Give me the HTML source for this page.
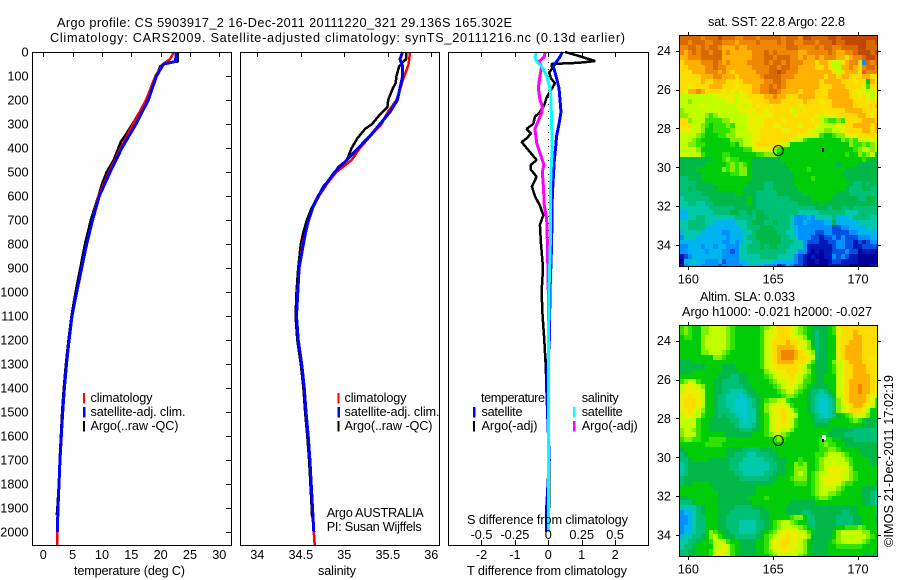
<!DOCTYPE html>
<html>
<head>
<meta charset="utf-8">
<title>Argo profile</title>
<style>
html,body{margin:0;padding:0;background:#fff;}
svg{display:block;}
text{font-family:"Liberation Sans",sans-serif;font-size:12.7px;fill:#000;}
</style>
</head>
<body>
<svg id="chart" xmlns="http://www.w3.org/2000/svg" width="900" height="580" viewBox="0 0 900 580">
  <rect x="0" y="0" width="900" height="580" fill="#fff"/>
  <defs>
    <clipPath id="clip-sst"><rect x="680" y="36" width="197" height="230"/></clipPath>
    <clipPath id="clip-sla"><rect x="680" y="326" width="197" height="230"/></clipPath>
  </defs>
  <text x="57" y="27" textLength="455" lengthAdjust="spacing">Argo profile: CS 5903917_2 16-Dec-2011 20111220_321 29.136S 165.302E</text>
  <text x="50" y="42" textLength="575" lengthAdjust="spacing">Climatology: CARS2009. Satellite-adjusted climatology: synTS_20111216.nc (0.13d earlier)</text>

  <g id="temp-panel"></g>
  <g id="sal-panel"></g>
  <g id="diff-panel"></g>
  <g id="sst-map"></g>
  <g id="sla-map"></g>

  <text x="74" y="575" textLength="111" lengthAdjust="spacing">temperature (deg C)</text>
  <text x="318" y="575" textLength="38" lengthAdjust="spacing">salinity</text>
  <text x="467" y="575" textLength="160" lengthAdjust="spacing">T difference from climatology</text>
  <text x="467" y="524" textLength="161" lengthAdjust="spacing">S difference from climatology</text>

  <g>
    <rect x="83" y="393" width="2" height="10.5" fill="#f00"/>
    <rect x="83" y="407" width="2.5" height="10.5" fill="#00f"/>
    <rect x="83" y="421" width="2" height="10.5" fill="#000"/>
    <text x="90.5" y="402" textLength="62" lengthAdjust="spacing">climatology</text>
    <text x="90.5" y="416" textLength="95" lengthAdjust="spacing">satellite-adj. clim.</text>
    <text x="90.5" y="430" textLength="88" lengthAdjust="spacing">Argo(..raw -QC)</text>
  </g>
  <g>
    <rect x="337.5" y="393" width="2" height="10.5" fill="#f00"/>
    <rect x="337.5" y="407" width="2.5" height="10.5" fill="#00f"/>
    <rect x="337.5" y="421" width="2" height="10.5" fill="#000"/>
    <text x="344.5" y="402" textLength="62" lengthAdjust="spacing">climatology</text>
    <text x="344.5" y="416" textLength="95" lengthAdjust="spacing">satellite-adj. clim.</text>
    <text x="344.5" y="430" textLength="88" lengthAdjust="spacing">Argo(..raw -QC)</text>
    <text x="326.7" y="517" textLength="97" lengthAdjust="spacing">Argo AUSTRALIA</text>
    <text x="326.7" y="531" textLength="95" lengthAdjust="spacing">PI: Susan Wijffels</text>
  </g>
  <g>
    <text x="481" y="402" textLength="64" lengthAdjust="spacing">temperature</text>
    <rect x="473" y="407" width="2.5" height="10.5" fill="#00f"/>
    <rect x="473" y="421" width="2" height="10.5" fill="#000"/>
    <text x="481.5" y="416" textLength="41" lengthAdjust="spacing">satellite</text>
    <text x="481.5" y="430" textLength="56" lengthAdjust="spacing">Argo(-adj)</text>
    <text x="581.7" y="402" textLength="37" lengthAdjust="spacing">salinity</text>
    <rect x="573" y="407" width="2.5" height="10.5" fill="#0ff"/>
    <rect x="573" y="421" width="2.5" height="10.5" fill="#f0f"/>
    <text x="581.7" y="416" textLength="41" lengthAdjust="spacing">satellite</text>
    <text x="581.7" y="430" textLength="56" lengthAdjust="spacing">Argo(-adj)</text>
  </g>

  <text x="708" y="26" textLength="137" lengthAdjust="spacing">sat. SST: 22.8 Argo: 22.8</text>
  <text x="700" y="301" textLength="95" lengthAdjust="spacing">Altim. SLA: 0.033</text>
  <text x="682" y="316" textLength="190" lengthAdjust="spacing">Argo h1000: -0.021 h2000: -0.027</text>
  <text transform="translate(893,547) rotate(-90)" textLength="172" lengthAdjust="spacing">©IMOS 21-Dec-2011 17:02:19</text>
</svg>

<script>
// ---- shared axis tick values ----
const depthTicks = [0,100,200,300,400,500,600,700,800,900,1000,1100,1200,1300,1400,1500,1600,1700,1800,1900,2000];
const tempTicks = [0,5,10,15,20,25,30];
const salTicks = [34,34.5,35,35.5,36];
const salTickLabels = ["34","34.5","35","35.5","36"];
const diffTTicks = [-2,-1,0,1,2];
const diffTLabels = ["-2","-1","0","1","2"];
const diffSTicks = [-0.5,-0.25,0,0.25,0.5];
const diffSLabels = ["-0.5","-0.25","0","0.25","0.5"];
const lonTicks = [160,165,170];
const latTicks = [24,26,28,30,32,34];

// ---- temperature profiles ----
const tempClimDepths = [0,30,50,100,200,300,400,500,600,700,800,900,1000,1100,1200,1300,1400,1500,1600,1700,1800,1900,2000,2054];
const tempClim = [22.3,21.6,20.4,19.1,17.5,15.3,13.2,11.2,9.4,8.35,7.4,6.55,5.7,4.9,4.4,3.95,3.6,3.3,3.07,2.85,2.68,2.55,2.4,2.4];
const tempSatDepths = [0,40,50,100,200,300,400,500,600,700,800,900,1000,1100,1200,1300,1400,1500,1600,1700,1800,1900,2000];
const tempSat = [22.7,22.5,20.5,19.3,17.9,15.8,13.4,11.4,9.55,8.4,7.4,6.55,5.7,4.9,4.4,3.95,3.6,3.3,3.07,2.85,2.68,2.5,2.39];
const tempArgoDepths = [0,40,45,60,100,200,280,300,350,375,400,450,500,550,600,700,800,900,1000,1100,1200,1300,1400,1500,1600,1700,1800,1900,1930];
const tempArgo = [22.9,22.9,20.9,19.9,19.3,17.6,15.7,15.2,13.9,13.2,12.8,12.0,10.8,10.0,9.4,8.1,7.1,6.3,5.5,4.8,4.3,3.85,3.5,3.2,3.0,2.8,2.65,2.4,2.3];

// ---- salinity profiles ----
const salClimDepths = [0,50,100,200,250,300,350,400,450,500,550,600,650,700,750,800,900,1000,1100,1200,1300,1400,1500,1600,1700,1800,1900,2000,2054];
const salClim = [35.755,35.74,35.69,35.6,35.5,35.43,35.3,35.18,35.085,34.91,34.8,34.71,34.636,34.59,34.556,34.52,34.48,34.46,34.45,34.47,34.51,34.54,34.56,34.585,34.605,34.62,34.635,34.65,34.66];
const salSatDepths = [0,30,60,100,150,200,250,300,350,400,450,500,550,600,650,700,750,800,900,1000,1100,1200,1300,1400,1500,1600,1700,1800,1900,2000];
const salSat = [35.67,35.64,35.67,35.67,35.64,35.61,35.525,35.41,35.295,35.16,35.03,34.89,34.79,34.7,34.636,34.59,34.556,34.53,34.48,34.465,34.45,34.47,34.51,34.54,34.56,34.585,34.605,34.62,34.635,34.65];
const salArgoDepths = [0,30,40,60,100,130,150,200,230,260,300,320,360,400,450,480,520,560,600,650,700,750,800,900,1000,1100,1200,1300,1400,1500,1600,1700,1800,1900,1940];
const salArgo = [35.715,35.71,35.68,35.63,35.6,35.59,35.56,35.505,35.495,35.41,35.32,35.24,35.15,35.085,35.03,34.93,34.855,34.76,34.7,34.625,34.57,34.53,34.5,34.47,34.45,34.44,34.46,34.5,34.53,34.55,34.575,34.595,34.61,34.625,34.63];

// ---- temperature differences ----
const dtSatDepths = [0,20,40,60,100,150,200,250,300,350,400,450,500,600,800,1000,1200,1400,1700,1900,2000];
const dtSat = [0.42,0.35,0.25,0.15,0.23,0.32,0.35,0.38,0.32,0.25,0.22,0.18,0.16,0.12,0.1,0.05,0.03,-0.05,0.03,-0.05,-0.05];
const dtArgoDepths = [0,20,38,45,50,70,85,110,130,150,170,190,220,250,270,300,320,340,360,375,400,450,470,490,520,560,600,640,680,720,800,900,1000,1100,1200,1300,1400,1700,1900];
const dtArgo = [0.5,1.0,1.4,0.9,0.1,0.12,0.02,0.08,0.2,0.12,0.03,-0.05,-0.12,-0.25,-0.4,-0.45,-0.65,-0.52,-0.65,-0.8,-0.65,-0.35,-0.52,-0.52,-0.35,-0.49,-0.4,-0.25,-0.15,-0.25,-0.22,-0.16,-0.2,-0.17,-0.12,-0.08,-0.05,0.02,0.02];

// ---- salinity differences ----
const dsSatDepths = [0,20,40,60,100,150,200,300,400,500,600,800,1000,1200,1500,2000];
const dsSat = [-0.087,-0.1,-0.087,-0.05,-0.012,0.013,0.02,0.025,0.03,0.02,0.015,0.015,0.005,0.002,0,0];
const dsArgoDepths = [0,20,40,60,100,150,200,230,260,320,380,420,470,500,560,640,700,800,1000,1200];
const dsArgo = [-0.025,-0.03,-0.07,-0.05,-0.062,-0.075,-0.062,-0.042,-0.055,-0.1,-0.087,-0.062,-0.032,-0.045,-0.037,-0.03,-0.012,-0.007,0,0];

// ---- SST grid, colour level per 0.25 deg cell (north to south, west to east) ----
const sstRows = [
"gggggfgggh"+"gggffgggfg"+"ggggfgggfh"+"hgggghhghh"+"hhhhhhh",
"ggfgggffgg"+"fffeffffgf"+"fffgfggffg"+"ggfggghggh"+"hhhhggh",
"ffggfgfggf"+"eeefeeffff"+"fffffgggff"+"ffgfggffgg"+"gghhggg",
"fefgfggfgg"+"efeeeeefff"+"gfgfffffee"+"fffffgfeef"+"fghhhgh",
"eefffggggg"+"eeeeeeefff"+"ggfgggffef"+"eefefffeed"+"effghhg",
"deeeefffgf"+"efeeeeffff"+"gfggfgfffe"+"eedeedbbde"+"ffd3gfg",
"ddeeeeffgf"+"feeeeeefff"+"fggfggffee"+"eeddedbbee"+"fedfggf",
"dddeeefffe"+"fedeeeeeff"+"fgghgfffee"+"eeeeeedbde"+"eedgfff",
"dddddeeeff"+"eeedeeeeef"+"ggggfffeee"+"eeeedeedee"+"dddeedd",
"dddddeddee"+"eddddeeeee"+"ffggfeeeee"+"eeedeeeedd"+"dcdd8ec",
"ddcddddeee"+"dddcdddeef"+"fgfgfeeeee"+"eeedddeeed"+"dddc9dc",
"dceefedddd"+"cdcdcddeef"+"fggfeeeede"+"eedddeeeee"+"dcccbbd",
"bbbbbbbbbc"+"cccbccdddd"+"eefeedddee"+"eedddeeeee"+"ddcdcbc",
"bbabbbbbbb"+"bccbcccddd"+"deeeddddde"+"dddcddeeee"+"edddcdd",
"bbbbbcbbbb"+"bbbccbcdcd"+"dcddddddcd"+"ddddddeeee"+"eddddde",
"abbbbbbbbb"+"bbbbccccdd"+"cdddddcbdc"+"ddddcdddde"+"eeedddd",
"aabbbba9ab"+"bbbbbbcccc"+"ccdddddcdd"+"ddcbcccddd"+"ddeedcd",
"ddabbb9999"+"aabbbbcccc"+"ddddcddddd"+"dcdba99a9d"+"dddeeed",
"dddbba9899"+"9a9bbbcccc"+"ddccddddcd"+"ddcbbbbccd"+"deeeede",
"cccbba8899"+"99abbbcccd"+"ddddccdddd"+"ccbbaabbcd"+"dddeede",
"bbbba98889"+"9aabbbbccd"+"ddddddddcc"+"cbb9889aac"+"ccddddc",
"bbba988888"+"88aaabbccd"+"ddddddcbb9"+"88888888a9"+"a9bbccb",
"bbaa998888"+"8898abbcdd"+"dddcbb8888"+"8888888888"+"a99a9ab",
"bbbba88888"+"8888899bcc"+"cca9888888"+"8888888888"+"89abbab",
"bbbbb98888"+"9988888899"+"aaa8888888"+"8888888889"+"88a9ab8",
"7777777788"+"9a99888777"+"7777888888"+"8888888888"+"8889877",
"7777778888"+"89a9a98777"+"7777788888"+"8888888788"+"8877777",
"7777888888"+"a9a9aa8777"+"7777778888"+"9888888887"+"7777777",
"7777788888"+"8899aa8777"+"7777777888"+"8888888877"+"7777777",
"6677788888"+"8888888777"+"7777777888"+"8988888887"+"7777777",
"6666777788"+"8888887777"+"6677777888"+"8888888888"+"7667677",
"6676777778"+"8888877777"+"6677777788"+"8888888887"+"6667766",
"6666677777"+"7778877766"+"6667777778"+"8888888777"+"6666666",
"5666666777"+"7777778766"+"6666667777"+"7888887777"+"7766776",
"5566556677"+"7777778766"+"6666666677"+"7778777777"+"7777776",
"5555555666"+"6667777766"+"6666666666"+"6677767766"+"7666666",
"4455555566"+"6677667677"+"6666666655"+"5556666665"+"5566666",
"4455665555"+"5556666677"+"7666665333"+"4355556444"+"5666655",
"5566665544"+"4445556777"+"6676665334"+"3333447444"+"4455555",
"5566664444"+"4444556667"+"7766665433"+"3333332233"+"4444555",
"4555544444"+"3344455677"+"7776655433"+"3322332222"+"3344444",
"3555444444"+"4344456677"+"7777665533"+"3221223232"+"2233344",
"4444444444"+"3343455667"+"7777666553"+"2221122332"+"2121233",
"3344434434"+"4333556667"+"6776665553"+"1111112332"+"2112222",
"3344443444"+"3323556666"+"6666655533"+"1010112223"+"2201110",
"1234444444"+"3333555556"+"6665555321"+"0100113232"+"1100000",
"0445443334"+"2333445555"+"5544444321"+"0010012211"+"1100000",
"1344433332"+"3333344544"+"3331243221"+"0000011111"+"0000011"
];

// ---- sea level anomaly grid, colour level per 0.25 deg cell ----
const slaRows = [
"9a988aabbb"+"ba98888889"+"abcdddcba9"+"8777789cdd"+"ddddddd",
"9a988aabbb"+"ba98888889"+"bccdddcba9"+"8767789cdd"+"deddddd",
"89988abbbb"+"ba98888889"+"bccdddccba"+"8767788cdd"+"deedddd",
"88888abbbb"+"ba98888889"+"bcdddeddcb"+"a767788cdd"+"eeedddc",
"88888abbbb"+"ba98888889"+"bcdeeeedcb"+"a867788cde"+"eeedddc",
"88888aabbb"+"a988888889"+"bcdefffedc"+"ba67788cde"+"eeedddc",
"88888888aa"+"9888888889"+"bcdefffedd"+"cb67788cde"+"eeeddcc",
"7778888888"+"8888888889"+"bcdeeeeddc"+"b97778abcd"+"eeedddc",
"7777778888"+"7778888889"+"bccdddddcb"+"9877789bcd"+"deeeddc",
"7778888888"+"7777888888"+"abcccdddcb"+"a877789bcd"+"deeeddc",
"8888888887"+"7766778888"+"9abcccdcba"+"9877888bcd"+"deeeedc",
"9abb988877"+"6666778888"+"89abbcccb9"+"9877888bcd"+"eeeeedc",
"bcccba8877"+"6666677888"+"889abccba9"+"8777788bcd"+"eefeedc",
"bccccb8877"+"6655567788"+"8889abba98"+"7665678bcd"+"eefeedc",
"ccdccb8876"+"6555m56778"+"88889aa988"+"7655567bcd"+"eeeedcb",
"cdddcb8876"+"655mmm5678"+"9aabb98888"+"765mm56acd"+"eeeedc9",
"cdddcb8876"+"655mmm5678"+"abcccb9888"+"765mm56abc"+"deedcb9",
"ccdcba8876"+"665mmm5578"+"abccdcb988"+"765mm56abc"+"dddcb88",
"bccbb98876"+"7665mm5578"+"9bccdccb88"+"8765m56789"+"abcba88",
"bbbb988777"+"77665m5578"+"9bccdcb988"+"8766678888"+"9a98777",
"bbbb988777"+"7776555678"+"9bccccb988"+"8877788888"+"8887776",
"abba988777"+"7777666778"+"9bccbba888"+"8888887777"+"7666666",
"abbb988888"+"8777777888"+"9abba98888"+"8888877776"+"6666666",
"9aa9988999"+"9888888888"+"889a988888"+"8889998877"+"7666666",
"8888889999"+"8888888888"+"8888888888"+"8889a99887"+"7777777",
"7888888888"+"8777766667"+"7788888888"+"88899aa988"+"8877777",
"6788888888"+"8776665566"+"6778888888"+"8899abbba9"+"8887777",
"6678888777"+"7766655555"+"6677788898"+"889abbbbba"+"9888877",
"5677777777"+"7766555555"+"5667788a9a"+"889abbcbbb"+"9888877",
"5677777777"+"7766555555"+"5667788aaa"+"889abccccb"+"a888888",
"5677777777"+"7776655555"+"6677788aba"+"89abbcccbb"+"a988888",
"6777777777"+"7777666666"+"6778889aaa"+"89abccccbb"+"a988888",
"6778888777"+"7777777777"+"7788888999"+"89abcccba9"+"9888887",
"8888888877"+"7777777788"+"8888888888"+"89abbbba98"+"8887776",
"8888888887"+"7777777788"+"8888888888"+"89abbaa988"+"8887765",
"7788888887"+"7777778888"+"9888888888"+"889aa98888"+"8887765",
"6667888887"+"7777777888"+"8888887777"+"7788888888"+"8887765",
"5555678887"+"7776666777"+"8888877777"+"7777777777"+"7788886",
"3445678887"+"7766666667"+"7888877776"+"6777777766"+"7788886",
"3345668887"+"7666666667"+"7888889aa8"+"6677777666"+"6778887",
"3345668887"+"7666555566"+"789abba988"+"6677777666"+"6778887",
"3445668887"+"7666555566"+"789abbbba9"+"8677777889"+"99a9888",
"3445668a98"+"7766555567"+"89abccccbb"+"9877778abb"+"bbbaa88",
"4556678ab9"+"8776666677"+"9abccdcccb"+"a777778abb"+"bbbba98",
"55667889bb"+"b988777788"+"9bccddccba"+"8777789abb"+"bbba988",
"56678888bb"+"cb98777788"+"9bccdcccba"+"8777788999"+"9998888",
"66778889bc"+"cb98777788"+"9abccccbba"+"8777788888"+"8888887",
"66778889bc"+"cb98777778"+"89abbbbba9"+"8777788888"+"8888777"
];

const levelColors = {
  "0":"#00009b","1":"#0018b8","2":"#0050e0","3":"#0090ff","4":"#00b4f0","m":"#00c8cc","5":"#00c8a8","6":"#00c078","7":"#00b848","8":"#00cc08",
  "9":"#30e400","a":"#80f000","b":"#c0ff00","c":"#e8f000","d":"#ffdc00","e":"#ffb000","f":"#ef8800","g":"#d86800","h":"#c04800"
};

const NS = "http://www.w3.org/2000/svg";
function mk(parent, tag) {
  const el = document.createElementNS(NS, tag);
  parent.appendChild(el);
  return el;
}
function label(parent, x, y, str, anchor) {
  const el = mk(parent, "text");
  el.setAttribute("x", x);
  el.setAttribute("y", y);
  el.setAttribute("text-anchor", anchor);
  el.textContent = str;
  return el;
}
function seg(parent, x1, y1, x2, y2) {
  const el = mk(parent, "line");
  el.setAttribute("x1", x1);
  el.setAttribute("y1", y1);
  el.setAttribute("x2", x2);
  el.setAttribute("y2", y2);
  el.setAttribute("stroke", "#000");
  el.setAttribute("stroke-width", 1);
  el.setAttribute("shape-rendering", "crispEdges");
  return el;
}

// axis functions
const depthY = d => 52 + 0.24 * d;
const tempX = t => 43.3 + 5.867 * t;
const salX = s => 344.3 + 87 * (s - 35);
const dtX = t => 548.3 + 33.4 * t;
const dsX = s => 548.3 + 133.6 * s;
const lonX = l => 688.3 + 16.97 * (l - 160);
const latY = l => 50.7 + 19.43 * (l - 24);

function profile(parent, depths, values, xf, color, width) {
  const el = mk(parent, "polyline");
  el.setAttribute("points", depths.map((d, i) => xf(values[i]).toFixed(1) + "," + depthY(d).toFixed(1)).join(" "));
  el.setAttribute("fill", "none");
  el.setAttribute("stroke", color);
  el.setAttribute("stroke-width", width);
  el.setAttribute("stroke-linejoin", "bevel");
  el.setAttribute("shape-rendering", "crispEdges");
  return el;
}
function frame(parent, x, y, w, h) {
  const el = mk(parent, "rect");
  el.setAttribute("x", x);
  el.setAttribute("y", y);
  el.setAttribute("width", w);
  el.setAttribute("height", h);
  el.setAttribute("fill", "none");
  el.setAttribute("stroke", "#000");
  el.setAttribute("stroke-width", 1);
  el.setAttribute("shape-rendering", "crispEdges");
  return el;
}

// ----- temperature panel -----
const tp = document.getElementById("temp-panel");
let el = profile(tp, tempArgoDepths, tempArgo, tempX, "#000", 2.5);


el = profile(tp, tempClimDepths, tempClim, tempX, "#f00", 2.5);


el = profile(tp, tempSatDepths, tempSat, tempX, "#00f", 3);


el = frame(tp, 32.5, 52.5, 199, 493);


depthTicks.forEach(d => {
  const t = seg(tp, 226, Math.round(depthY(d)) + 0.5, 231, Math.round(depthY(d)) + 0.5);
  
  
  const l = label(tp, 28.5, depthY(d) + 4.5, String(d), "end");
  
  
});
tempTicks.forEach(v => {
  const t = seg(tp, Math.round(tempX(v)) + 0.5, 53, Math.round(tempX(v)) + 0.5, 57);
  
  
  const l = label(tp, tempX(v), 559, String(v), "middle");
  
  
});

// ----- salinity panel -----
const sp = document.getElementById("sal-panel");
el = profile(sp, salArgoDepths, salArgo, salX, "#000", 2.5);


el = profile(sp, salClimDepths, salClim, salX, "#f00", 2.5);


el = profile(sp, salSatDepths, salSat, salX, "#00f", 3);


el = frame(sp, 240.5, 52.5, 199, 493);


salTicks.forEach((v, i) => {
  const t = seg(sp, Math.round(salX(v)) + 0.5, 53, Math.round(salX(v)) + 0.5, 57);
  
  
  const l = label(sp, salX(v), 559, salTickLabels[i], "middle");
  
  
});

// ----- difference panel -----
const dp = document.getElementById("diff-panel");
el = seg(dp, 548.5, 62, 548.5, 545);
el.setAttribute("stroke-dasharray", "1 6");


el = profile(dp, dtArgoDepths, dtArgo, dtX, "#000", 2.5);


el = profile(dp, dtSatDepths, dtSat, dtX, "#00f", 3);


el = profile(dp, dsArgoDepths, dsArgo, dsX, "#f0f", 3);


el = profile(dp, dsSatDepths, dsSat, dsX, "#0ff", 3);


el = frame(dp, 448.5, 52.5, 200, 493);


diffTTicks.forEach((v, i) => {
  const x = Math.round(dtX(v)) + 0.5;
  const t = seg(dp, x, 53, x, 57);
  
  
  const b = seg(dp, x, 540, x, 545);
  
  
  const l = label(dp, dtX(v), 559, diffTLabels[i], "middle");
  
  
});
diffSTicks.forEach((v, i) => {
  const l = label(dp, dsX(v), 539, diffSLabels[i], "middle");
  
  
});

// ----- maps -----
function drawMap(group, rows, clipId, dy) {
  const cells = mk(group, "g");
  cells.setAttribute("clip-path", "url(#" + clipId + ")");
  
  
  const lon0 = 159.48, lat0 = 23.22, step = 0.25;
  rows.forEach((row, r) => {
    for (let c = 0; c < row.length; c++) {
      const x0 = Math.round(lonX(lon0 + c * step));
      const x1 = Math.round(lonX(lon0 + (c + 1) * step));
      const y0 = Math.round(latY(lat0 + r * step)) + dy;
      const y1 = Math.round(latY(lat0 + (r + 1) * step)) + dy;
      const cell = mk(cells, "rect");
      cell.setAttribute("x", x0);
      cell.setAttribute("y", y0);
      cell.setAttribute("width", x1 - x0);
      cell.setAttribute("height", y1 - y0);
      cell.setAttribute("fill", levelColors[row[c]]);
      cell.setAttribute("shape-rendering", "crispEdges");
      
      
    }
  });
  const fr = frame(group, 679.5, 35.5 + dy, 198, 231);
  
  
  lonTicks.forEach(v => {
    const x = Math.round(lonX(v)) + 0.5;
    const a = seg(group, x, 32 + dy, x, 35 + dy);
    
    
    const b = seg(group, x, 267 + dy, x, 270 + dy);
    
    
    const l = label(group, lonX(v), 283.5 + dy, String(v), "middle");
    
    
  });
  latTicks.forEach(v => {
    const y = Math.round(latY(v)) + 0.5 + dy;
    const a = seg(group, 676, y, 679, y);
    
    
    const b = seg(group, 878, y, 881, y);
    
    
    const l = label(group, 671, latY(v) + 4.5 + dy, String(v), "end");
    
    
  });
  const ring = mk(group, "circle");
  ring.setAttribute("cx", lonX(165.302));
  ring.setAttribute("cy", latY(29.136) + dy);
  ring.setAttribute("r", 5);
  ring.setAttribute("fill", "none");
  ring.setAttribute("stroke", "#000");
  ring.setAttribute("stroke-width", 1);
  
  
}
drawMap(document.getElementById("sst-map"), sstRows, "clip-sst", 0);
drawMap(document.getElementById("sla-map"), slaRows, "clip-sla", 290);

const sstGroup = document.getElementById("sst-map");
const blip1 = mk(sstGroup, "rect");
blip1.setAttribute("x", 822);
blip1.setAttribute("y", 148);
blip1.setAttribute("width", 2);
blip1.setAttribute("height", 4);
blip1.setAttribute("fill", "#000");


const slaGroup = document.getElementById("sla-map");
const blip2 = mk(slaGroup, "rect");
blip2.setAttribute("x", 822);
blip2.setAttribute("y", 435);
blip2.setAttribute("width", 4);
blip2.setAttribute("height", 5);
blip2.setAttribute("fill", "#fff");


const blip3 = mk(slaGroup, "rect");
blip3.setAttribute("x", 822);
blip3.setAttribute("y", 439);
blip3.setAttribute("width", 2);
blip3.setAttribute("height", 3);
blip3.setAttribute("fill", "#000");


</script>
</body>
</html>
